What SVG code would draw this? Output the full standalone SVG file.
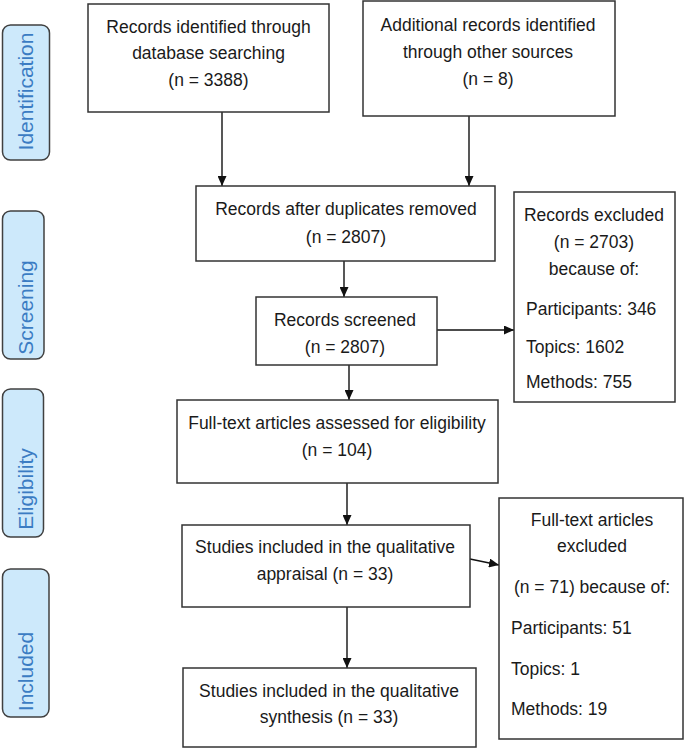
<svg xmlns="http://www.w3.org/2000/svg" width="685" height="749" viewBox="0 0 685 749">
<style>
  .box { fill: #ffffff; stroke: #333333; stroke-width: 1.5; }
  .phase { fill: #cde9fb; stroke: #404040; stroke-width: 1.5; }
  .t { font-family: "Liberation Sans", Arial, sans-serif; font-size: 17.5px; fill: #1a1a1a; text-anchor: middle; }
  .tl { font-family: "Liberation Sans", Arial, sans-serif; font-size: 17.5px; fill: #1a1a1a; text-anchor: start; }
  .pt { font-family: "Liberation Sans", Arial, sans-serif; font-size: 21px; fill: #3b7cc3; text-anchor: middle; }
  .conn { stroke: #111111; stroke-width: 1.4; fill: none; marker-end: url(#arr); }
</style>
<defs>
  <marker id="arr" markerUnits="userSpaceOnUse" markerWidth="10" markerHeight="9" refX="10" refY="4.5" orient="auto">
    <path d="M0,0 L10,4.5 L0,9 Z" fill="#111111"/>
  </marker>
</defs>
<rect width="685" height="749" fill="#ffffff"/>

<g id="phase-identification">
  <rect class="phase" x="2.5" y="25" width="47" height="135" rx="8"/>
  <text class="pt" transform="translate(33,91.5) rotate(-90)">Identification</text>
</g>
<g id="phase-screening">
  <rect class="phase" x="2.5" y="211" width="41.5" height="148" rx="8"/>
  <text class="pt" transform="translate(32.5,307.5) rotate(-90)">Screening</text>
</g>
<g id="phase-eligibility">
  <rect class="phase" x="2.5" y="389" width="41" height="148" rx="8"/>
  <text class="pt" transform="translate(32.5,489) rotate(-90)">Eligibility</text>
</g>
<g id="phase-included">
  <rect class="phase" x="2.5" y="569" width="46.5" height="148" rx="8"/>
  <text class="pt" transform="translate(33,671.5) rotate(-90)">Included</text>
</g>

<g id="connectors">
  <line class="conn" x1="222" y1="112" x2="222" y2="186"/>
  <line class="conn" x1="469" y1="116" x2="469" y2="186"/>
  <line class="conn" x1="344" y1="261" x2="344" y2="297"/>
  <line class="conn" x1="437" y1="330" x2="514" y2="330"/>
  <line class="conn" x1="349" y1="365" x2="349" y2="400"/>
  <line class="conn" x1="347" y1="483" x2="347" y2="525"/>
  <line class="conn" x1="470" y1="559" x2="499" y2="565"/>
  <line class="conn" x1="347" y1="607" x2="347" y2="668"/>
</g>

<g id="records-database">
  <rect class="box" x="88" y="4" width="241" height="108"/>
  <text class="t" x="208.5" y="33">Records identified through</text>
  <text class="t" x="208.5" y="59">database searching</text>
  <text class="t" x="208.5" y="86">(n = 3388)</text>
</g>
<g id="records-other">
  <rect class="box" x="363" y="1" width="252" height="115"/>
  <text class="t" x="488" y="31">Additional records identified</text>
  <text class="t" x="488" y="58">through other sources</text>
  <text class="t" x="488" y="85">(n = 8)</text>
</g>
<g id="records-deduplicated">
  <rect class="box" x="196" y="186" width="299" height="75"/>
  <text class="t" x="346" y="215">Records after duplicates removed</text>
  <text class="t" x="346" y="243">(n = 2807)</text>
</g>
<g id="records-screened">
  <rect class="box" x="256" y="297" width="181" height="68"/>
  <text class="t" x="345" y="326">Records screened</text>
  <text class="t" x="345" y="353">(n = 2807)</text>
</g>
<g id="records-excluded">
  <rect class="box" x="514" y="192" width="161" height="210"/>
  <text class="t" x="594" y="221">Records excluded</text>
  <text class="t" x="594" y="248">(n = 2703)</text>
  <text class="t" x="594" y="275">because of:</text>
  <text class="tl" x="526" y="315">Participants: 346</text>
  <text class="tl" x="526" y="353">Topics: 1602</text>
  <text class="tl" x="526" y="388">Methods: 755</text>
</g>
<g id="fulltext-assessed">
  <rect class="box" x="177" y="400" width="321" height="83"/>
  <text class="t" x="337" y="429">Full-text articles assessed for eligibility</text>
  <text class="t" x="337" y="456">(n = 104)</text>
</g>
<g id="studies-appraisal">
  <rect class="box" x="182" y="525" width="288" height="82"/>
  <text class="t" x="325" y="553">Studies included in the qualitative</text>
  <text class="t" x="325" y="580">appraisal (n = 33)</text>
</g>
<g id="fulltext-excluded">
  <rect class="box" x="499" y="498" width="184" height="241"/>
  <text class="t" x="592" y="526">Full-text articles</text>
  <text class="t" x="592" y="552">excluded</text>
  <text class="t" x="592" y="593">(n = 71) because of:</text>
  <text class="tl" x="511" y="634">Participants: 51</text>
  <text class="tl" x="511" y="675">Topics: 1</text>
  <text class="tl" x="511" y="715">Methods: 19</text>
</g>
<g id="studies-synthesis">
  <rect class="box" x="183" y="668" width="293" height="79"/>
  <text class="t" x="329" y="697">Studies included in the qualitative</text>
  <text class="t" x="329" y="723">synthesis (n = 33)</text>
</g>
</svg>
